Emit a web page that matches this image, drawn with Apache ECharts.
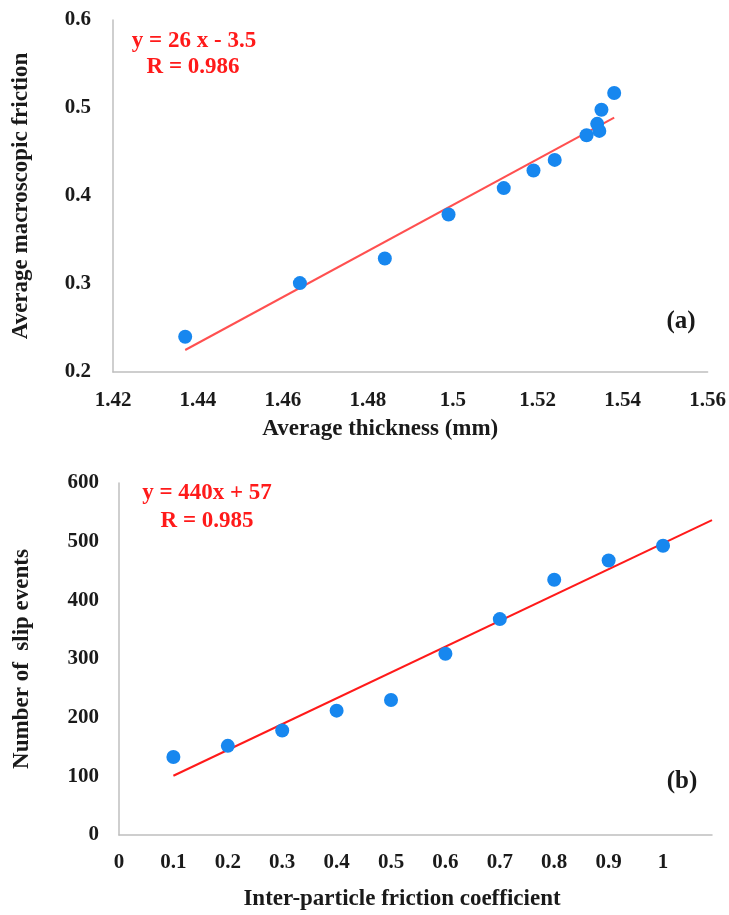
<!DOCTYPE html>
<html>
<head>
<meta charset="utf-8">
<style>
  html, body { margin: 0; padding: 0; background: #fff; }
  #chart { width: 729px; height: 915px; }
</style>
<script src="https://cdn.jsdelivr.net/npm/echarts@6/dist/echarts.min.js"></script>
</head>
<body>
<div id="chart"></div>
<script>
// Panel (a): average thickness vs. average macroscopic friction
const thicknessMm = [1.437, 1.464, 1.484, 1.499, 1.512, 1.519, 1.524, 1.5315, 1.534, 1.5345, 1.535, 1.538];
const macroFriction = [0.240, 0.301, 0.329, 0.379, 0.409, 0.429, 0.441, 0.469, 0.482, 0.474, 0.498, 0.517];
// fitted line end points for panel (a)
const fitAX = [1.437, 1.538];
const fitAY = [0.225, 0.489];
const fitALabel = ['y = 26 x - 3.5', 'R = 0.986'];

// Panel (b): inter-particle friction coefficient vs. number of slip events
const particleFriction = [0.1, 0.2, 0.3, 0.4, 0.5, 0.6, 0.7, 0.8, 0.9, 1.0];
const slipEvents = [133, 152, 178, 212, 230, 309, 368, 435, 468, 493];
const fitBSlope = 440;
const fitBIntercept = 57;
const fitBRange = [0.1, 1.09];
const fitBLabel = ['y = 440x + 57', 'R = 0.985'];

const FONT = '"Liberation Serif", "Times New Roman", serif';
const BLUE = '#1787EF';
const AXIS_GRAY = '#BFBFBF';

const zip = (xs, ys) => xs.map((x, i) => [x, ys[i]]);
const fitBData = fitBRange.map(x => [x, fitBSlope * x + fitBIntercept]);

const tickLabel = {
  fontFamily: FONT, fontSize: 21, fontWeight: 'bold', color: '#1a1a1a'
};
const axisTitle = {
  fontFamily: FONT, fontSize: 23, fontWeight: 'bold', color: '#1a1a1a'
};
const baseAxis = {
  type: 'value',
  axisLine: { show: true, lineStyle: { color: AXIS_GRAY, width: 1.5 } },
  axisTick: { show: false },
  splitLine: { show: false }
};

const chart = echarts.init(document.getElementById('chart'), null, { renderer: 'canvas' });

chart.setOption({
  backgroundColor: '#ffffff',
  animation: false,
  grid: [
    { left: 113, top: 20, width: 595, height: 352 },
    { left: 119, top: 483, width: 593, height: 352 }
  ],
  xAxis: [
    Object.assign({}, baseAxis, {
      gridIndex: 0, min: 1.42, max: 1.56, interval: 0.02,
      axisLabel: Object.assign({ margin: 18 }, tickLabel),
      name: 'Average thickness (mm)', nameLocation: 'middle', nameGap: 46,
      nameTextStyle: Object.assign({ padding: [0, 60, 0, 0] }, axisTitle)
    }),
    Object.assign({}, baseAxis, {
      gridIndex: 1, min: 0, max: 1.09, interval: 0.1,
      axisLabel: Object.assign({
        margin: 17,
        formatter: v => (Math.abs(v * 10 - Math.round(v * 10)) < 1e-6 ? String(+v.toFixed(1)) : '')
      }, tickLabel),
      name: 'Inter-particle friction coefficient', nameLocation: 'middle', nameGap: 53,
      nameTextStyle: Object.assign({ padding: [0, 27, 0, 0] }, axisTitle)
    })
  ],
  yAxis: [
    Object.assign({}, baseAxis, {
      gridIndex: 0, min: 0.2, max: 0.6, interval: 0.1,
      axisLabel: Object.assign({ margin: 22 }, tickLabel),
      name: 'Average macroscopic friction', nameLocation: 'middle', nameGap: 80,
      nameTextStyle: axisTitle
    }),
    Object.assign({}, baseAxis, {
      gridIndex: 1, min: 0, max: 600, interval: 100,
      axisLabel: Object.assign({ margin: 20 }, tickLabel),
      name: 'Number of  slip events', nameLocation: 'middle', nameGap: 85,
      nameTextStyle: axisTitle
    })
  ],
  series: [
    {
      type: 'line', xAxisIndex: 0, yAxisIndex: 0,
      data: zip(fitAX, fitAY), showSymbol: false, silent: true,
      lineStyle: { color: '#FF5050', width: 2 }, z: 2
    },
    {
      type: 'scatter', xAxisIndex: 0, yAxisIndex: 0,
      data: zip(thicknessMm, macroFriction),
      symbol: 'circle', symbolSize: 14,
      itemStyle: { color: BLUE, opacity: 1 }, z: 3
    },
    {
      type: 'line', xAxisIndex: 1, yAxisIndex: 1,
      data: fitBData, showSymbol: false, silent: true,
      lineStyle: { color: '#FF1A1A', width: 2 }, z: 2
    },
    {
      type: 'scatter', xAxisIndex: 1, yAxisIndex: 1,
      data: zip(particleFriction, slipEvents),
      symbol: 'circle', symbolSize: 14,
      itemStyle: { color: BLUE, opacity: 1 }, z: 3
    }
  ],
  graphic: [
    { type: 'text', x: 194, y: 41, style: { text: fitALabel[0], fill: '#FF1A1A', font: 'bold 23px ' + FONT, textAlign: 'center', textVerticalAlign: 'middle' } },
    { type: 'text', x: 193, y: 67, style: { text: fitALabel[1], fill: '#FF1A1A', font: 'bold 23px ' + FONT, textAlign: 'center', textVerticalAlign: 'middle' } },
    { type: 'text', x: 681, y: 322, style: { text: '(a)', fill: '#1a1a1a', font: 'bold 25px ' + FONT, textAlign: 'center', textVerticalAlign: 'middle' } },
    { type: 'text', x: 207, y: 493, style: { text: fitBLabel[0], fill: '#FF1A1A', font: 'bold 23px ' + FONT, textAlign: 'center', textVerticalAlign: 'middle' } },
    { type: 'text', x: 207, y: 521, style: { text: fitBLabel[1], fill: '#FF1A1A', font: 'bold 23px ' + FONT, textAlign: 'center', textVerticalAlign: 'middle' } },
    { type: 'text', x: 682, y: 782, style: { text: '(b)', fill: '#1a1a1a', font: 'bold 25px ' + FONT, textAlign: 'center', textVerticalAlign: 'middle' } }
  ]
});
</script>
</body>
</html>
